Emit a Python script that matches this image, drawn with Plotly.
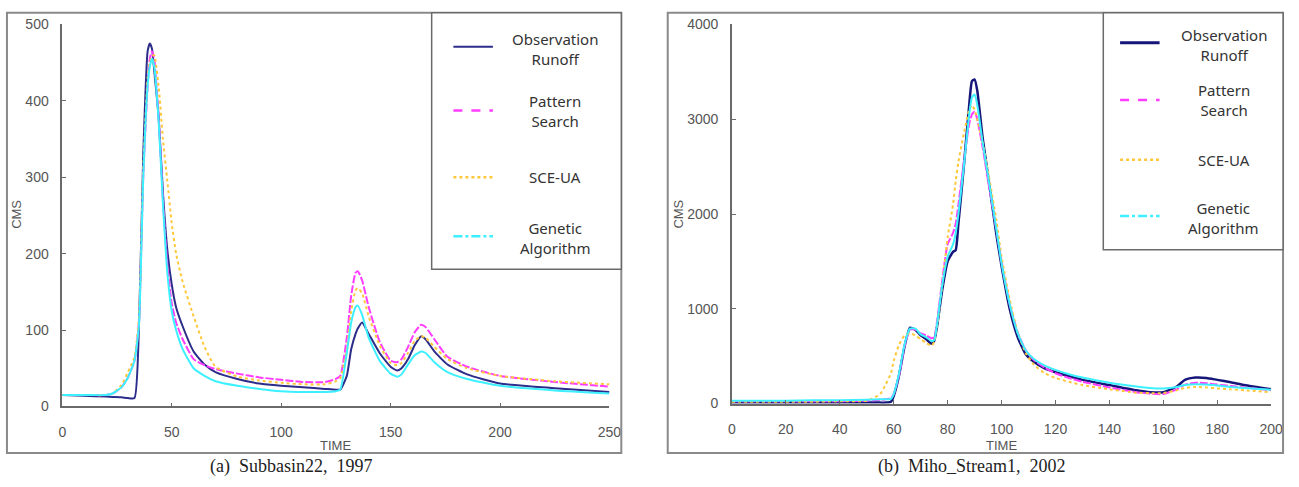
import plotly.graph_objects as go

W, H = 1299, 487

# ---------------- Data: (a) Subbasin22, 1997 ----------------
time_a = [0, 10, 20, 23, 27, 30, 33, 35, 37, 39, 40, 41, 42, 44, 46, 48, 50, 52, 55, 60, 65, 70,
          80, 90, 100, 110, 120, 125, 127, 130, 132, 134, 135, 137, 140, 145, 150, 153, 155, 158,
          161, 164, 166, 170, 176, 185, 200, 225, 250]
obs_a = [15, 14, 13, 12.5, 12, 11, 11, 100, 330, 465, 475, 468, 440, 380, 280, 205, 160, 130, 105, 72,
         55, 45, 36, 30, 27, 25, 23, 22, 22, 40, 75, 95, 102, 110, 95, 70, 52, 47, 50, 62,
         80, 92, 88, 72, 55, 42, 30, 24, 19]
ps_a = [15, 15, 15, 17, 25, 38, 60, 110, 300, 420, 455, 465, 455, 380, 270, 185, 135, 110, 88, 62,
        54, 49, 43, 38, 35, 32, 32, 36, 40, 90, 145, 175, 177, 165, 130, 85, 60, 58, 62, 78,
        97, 107, 104, 88, 65, 52, 40, 32, 26]
sce_a = [15, 15, 15, 17, 28, 45, 65, 115, 310, 430, 450, 458, 460, 420, 350, 295, 240, 200, 163, 118,
         78, 52, 39, 34, 31, 29, 29, 33, 37, 75, 125, 152, 155, 148, 118, 80, 57, 54, 57, 70,
         86, 92, 90, 78, 62, 50, 40, 33, 29]
ga_a = [15, 15, 15, 17, 25, 38, 60, 105, 300, 420, 445, 455, 445, 375, 265, 175, 125, 100, 75, 50,
        40, 33, 27, 23, 20, 19, 19, 20, 22, 70, 110, 130, 132, 120, 90, 60, 43, 39, 42, 55,
        67, 72, 70, 58, 45, 36, 27, 21, 17]

# ---------------- Data: (b) Miho_Stream1, 2002 ----------------
time_b = [0, 10, 20, 30, 40, 50, 55, 57, 59, 60, 62, 64, 66, 68, 70, 72, 74, 75, 76, 78, 80, 82, 83,
          84, 86, 88, 89, 90, 91, 93, 95, 98, 100, 103, 106, 109, 112, 116, 120, 125, 130, 140,
          150, 155, 160, 165, 168, 172, 176, 180, 185, 190, 200]
obs_b = [10, 10, 10, 10, 10, 10, 10, 10, 20, 80, 300, 600, 800, 780, 720, 680, 630, 660, 800, 1200,
         1500, 1600, 1620, 1900, 2500, 3150, 3400, 3420, 3300, 2800, 2400, 1800, 1450, 1000, 700,
         520, 440, 370, 330, 290, 250, 195, 140, 120, 120, 180, 250, 275, 270, 250, 225, 195, 150]
ps_b = [25, 25, 25, 25, 25, 30, 40, 45, 60, 100, 300, 600, 780, 780, 740, 720, 690, 700, 850, 1300,
        1680, 1800, 1900, 2100, 2550, 2950, 3050, 3080, 3000, 2700, 2350, 1850, 1500, 1050, 750,
        560, 460, 380, 320, 270, 230, 170, 120, 105, 100, 150, 200, 220, 215, 200, 185, 170, 140]
sce_b = [20, 20, 20, 20, 25, 30, 100, 200, 320, 450, 620, 720, 740, 720, 680, 640, 610, 650, 800, 1250,
         1750, 2100, 2350, 2550, 2850, 3100, 3150, 3100, 3000, 2750, 2450, 1950, 1550, 1100, 750,
         530, 410, 320, 270, 230, 195, 150, 115, 110, 110, 140, 165, 175, 170, 160, 150, 140, 120]
ga_b = [30, 30, 30, 35, 35, 40, 45, 45, 50, 100, 320, 620, 790, 790, 730, 700, 660, 670, 820, 1250,
        1550, 1680, 1800, 2000, 2500, 3050, 3230, 3260, 3150, 2750, 2400, 1850, 1480, 1050, 740,
        560, 470, 400, 355, 310, 275, 220, 180, 165, 160, 175, 195, 205, 200, 190, 175, 165, 145]

series_names = ["Observation<br>Runoff", "Pattern<br>Search", "SCE-UA", "Genetic<br>Algorithm"]
ticks_a_x = [0, 50, 100, 150, 200, 250]
ticks_a_y = [0, 100, 200, 300, 400, 500]
ticks_b_x = [0, 20, 40, 60, 80, 100, 120, 140, 160, 180, 200]
ticks_b_y = [0, 1000, 2000, 3000, 4000]

NAVY_A, NAVY_B = "#2c2c8a", "#15157a"
MAG, ORA, CYA = "#ff3cff", "#ffc83a", "#3cf0ff"


def px(x):
    return x / W


def py(y):
    return (H - y) / H


fig = go.Figure()

styles = [
    dict(color=None, dash="solid"),
    dict(color=MAG, dash="8px,2px"),
    dict(color=ORA, dash="3px,3px"),
    dict(color=CYA, dash="solid"),
]

for i, vals in enumerate([obs_a, ps_a, sce_a, ga_a]):
    c = NAVY_A if i == 0 else styles[i]["color"]
    fig.add_trace(go.Scatter(x=time_a, y=vals, mode="lines", xaxis="x", yaxis="y",
                             line=dict(color=c, width=2, dash=styles[i]["dash"], shape="spline", smoothing=0.5),
                             showlegend=False))
for i, vals in enumerate([obs_b, ps_b, sce_b, ga_b]):
    c = NAVY_B if i == 0 else styles[i]["color"]
    fig.add_trace(go.Scatter(x=time_b, y=vals, mode="lines", xaxis="x2", yaxis="y2",
                             line=dict(color=c, width=2.5 if i == 0 else 2, dash=styles[i]["dash"],
                                       shape="spline", smoothing=0.5),
                             showlegend=False))

axis_common = dict(showgrid=False, zeroline=False, showline=True, linecolor="#6a6a6a", linewidth=1.5,
                   ticks="inside", ticklen=4, tickcolor="#6a6a6a", tickwidth=1.2,
                   tickfont=dict(family="Liberation Sans, Arial, sans-serif", size=14, color="#555555"))
xax = dict(ticklabelstandoff=12, **axis_common)
yax = dict(ticklabelstandoff=9, **axis_common)

fig.update_layout(
    width=W, height=H, margin=dict(l=0, r=0, t=0, b=0),
    paper_bgcolor="white", plot_bgcolor="white",
    xaxis=dict(domain=[px(59), px(613)], range=[0, 250], tickvals=ticks_a_x, anchor="y", **xax),
    yaxis=dict(domain=[py(412), py(17)], range=[0, 500], tickvals=ticks_a_y, anchor="x", **yax),
    xaxis2=dict(domain=[px(737), px(1283)], range=[0, 200], tickvals=ticks_b_x, anchor="y2", **xax),
    yaxis2=dict(domain=[py(409), py(17)], range=[0, 4000], tickvals=ticks_b_y, anchor="x2", **yax),
)

shapes = []
annotations = []
# panel borders
for (x0, x1) in [(3, 625), (672, 1295)]:
    shapes.append(dict(type="rect", xref="paper", yref="paper", x0=px(x0), x1=px(x1), y0=py(460), y1=py(5),
                       line=dict(color="#8a8a8a", width=2), fillcolor="rgba(0,0,0,0)", layer="above"))

# legends
legend_specs = [
    dict(box=(433, 625, 5, 270), sx=(455, 495), tx=558, ys=[42, 106, 175, 238], navy=NAVY_A, nw=2),
    dict(box=(1113, 1295, 5, 250), sx=(1130, 1170), tx=1235, ys=[38, 95, 157, 217], navy=NAVY_B, nw=3),
]
leg_dash = ["solid", "dash", "dot", "dashdot"]
for spec in legend_specs:
    bx0, bx1, by0, by1 = spec["box"]
    shapes.append(dict(type="rect", xref="paper", yref="paper", x0=px(bx0), x1=px(bx1), y0=py(by1), y1=py(by0),
                       line=dict(color="#6a6a6a", width=1.5), fillcolor="white", layer="above"))
    cols = [spec["navy"], MAG, ORA, CYA]
    for k, yy in enumerate(spec["ys"]):
        sy = yy - 2 if k in (0, 3) else yy
        shapes.append(dict(type="line", xref="paper", yref="paper", x0=px(spec["sx"][0]), x1=px(spec["sx"][1]),
                           y0=py(sy), y1=py(sy), layer="above",
                           line=dict(color=cols[k], width=spec["nw"] if k == 0 else 2.5, dash=leg_dash[k])))
        annotations.append(dict(xref="paper", yref="paper", x=px(spec["tx"]), y=py(yy), text=series_names[k],
                                showarrow=False, xanchor="center", yanchor="middle", align="center",
                                font=dict(family="Noto Sans, Open Sans, sans-serif", size=15, color="#333333")))

# axis titles
for x in [12, 682]:
    annotations.append(dict(xref="paper", yref="paper", x=px(x), y=py(213), text="CMS", textangle=-90,
                            showarrow=False, xanchor="center", yanchor="middle",
                            font=dict(family="Liberation Sans, Arial, sans-serif", size=13, color="#555555")))
for x in [336, 1010]:
    annotations.append(dict(xref="paper", yref="paper", x=px(x), y=py(443), text="TIME",
                            showarrow=False, xanchor="center", yanchor="top",
                            font=dict(family="Liberation Sans, Arial, sans-serif", size=13, color="#555555")))

# captions
for x, t in [(291, "(a)  Subbasin22,  1997"), (980, "(b)  Miho_Stream1,  2002")]:
    annotations.append(dict(xref="paper", yref="paper", x=px(x), y=0, text=t,
                            showarrow=False, xanchor="center", yanchor="bottom",
                            font=dict(family="Liberation Serif, DejaVu Serif, serif", size=18, color="#222222")))

fig.update_layout(shapes=shapes, annotations=annotations)
fig.write_html("out.html")
